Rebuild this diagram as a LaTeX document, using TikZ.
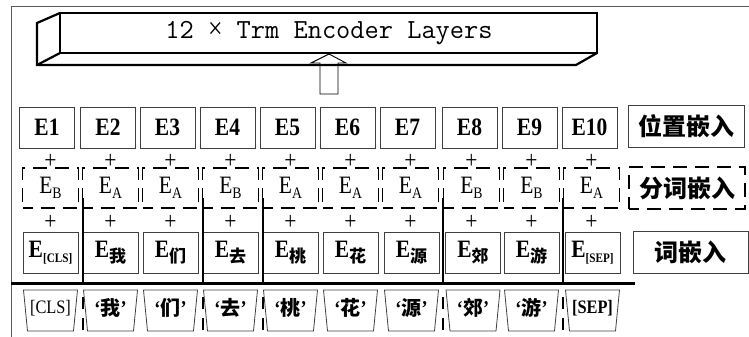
\documentclass[tikz,border=0pt]{standalone}
\usepackage{fontspec}
\newfontfamily\cjk{Noto Sans CJK SC}
\newfontfamily\lab[FakeStretch=0.86]{Liberation Serif}
\newcommand\lsub[2][16]{\raisebox{-0.2em}{\fontsize{#1}{#1}\selectfont #2}}
\newcommand\csub[1]{\raisebox{-0.2em}{\fontsize{17}{17}\selectfont\cjk\bfseries #1}}
\begin{document}
\begin{tikzpicture}[x=1pt,y=-1pt,
  frame/.style={draw=black!65,line width=0.8pt},
  slab/.style={line width=2.2pt,line join=miter},
  posbox/.style={draw=black!75,line width=0.8pt,minimum width=55pt,minimum height=41pt,inner sep=0pt,
    font=\lab\bfseries\fontsize{25}{25}\selectfont},
  segbox/.style={draw=black,line width=1.8pt,dash pattern=on 14pt off 8pt,dash phase=4pt,
    minimum width=56pt,minimum height=40pt,inner sep=0pt,font=\lab\fontsize{25}{25}\selectfont},
  tokbox/.style={draw=black!75,line width=0.8pt,minimum width=55pt,minimum height=41pt,inner sep=0pt,
    font=\lab\bfseries\fontsize{25}{25}\selectfont},
  namebox/.style={draw=black!75,line width=0.8pt,minimum width=116pt,minimum height=42pt,inner sep=0pt,
    font=\cjk\bfseries\fontsize{24}{24}\selectfont},
  plus/.style={inner sep=0pt,font=\lab\fontsize{25}{25}\selectfont},
  trap/.style={draw=black!75,line width=0.8pt},
  word/.style={inner sep=0pt,font=\lab\bfseries\fontsize{21}{21}\selectfont},
  bound/.style={draw=black,line width=1.3pt}]
\useasboundingbox (0,0) rectangle (749,337);

% outer frame (open to the right and bottom)
\draw[frame] (749,6) -- (11,6) -- (11,337);

% encoder slab seen in perspective
\draw[slab] (60,13) rectangle (597,53);
\draw[slab] (60,13) -- (37,23) -- (37,65) -- (576,65) -- (597,53);
\draw[slab] (60,53) -- (37,65);
\node[inner sep=0pt,font=\ttfamily\fontsize{27.6}{27.6}\selectfont] (enc) at (329,33)
  {12 \makebox[0.525em]{\lab\fontsize{30}{30}\selectfont ×} Trm Encoder Layers};

% hollow arrow feeding the encoder
\draw[line width=0.9pt] (320,94) -- (320,63) -- (311,63) -- (329,54) -- (346,63) -- (338,63) -- (338,94) -- cycle;

% position embeddings
\foreach \x/\t [count=\i] in {47/E1,108/E2,167.5/E3,227.5/E4,287.5/E5,347.5/E6,407.5/E7,469.5/E8,529.5/E9,589.5/E10}
  \node[posbox] (p\i) at (\x,127.5) {\t};
\node[namebox] (pname) at (686,126) {位置嵌入};

% segment embeddings
\foreach \x/\s [count=\i] in {50.5/B,110.5/A,170.5/A,230.5/B,290.5/A,350.5/A,410.5/A,471.5/B,531.5/B,591.5/A}{
  \node[segbox] (s\i) at (\x,188) {E\lsub{\s}};
  \node[plus] (pt\i) at (\x,161) {+};
  \node[plus] (pb\i) at (\x,222) {+};
}
\node[namebox,draw=black,line width=1.8pt,dash pattern=on 14pt off 8pt,dash phase=4pt] (sname) at (687,188) {分词嵌入};

% token embeddings
\node[tokbox] (t1) at (50.5,252.5) {E\lsub[13]{[CLS]}};
\foreach \x/\c [count=\i from 2] in {110.5/我,170.5/们,230.5/去,290.5/桃,350.5/花,411.5/源,473/郊,531.5/游}
  \node[tokbox] (t\i) at (\x,252.5) {E\csub{\c}};
\node[tokbox] (t10) at (592.5,252.5) {E\lsub[13]{[SEP]}};
\node[namebox,minimum width=115pt] (tname) at (690.5,252.5) {词嵌入};

% heavy rule between embeddings and inputs
\draw[line width=3pt] (11,283) -- (635,283);

% input tokens
\foreach \x [count=\i] in {50.5,110.5,170.5,230.5,290.5,350.5,411.5,473,531.5,592.5}
  \draw[trap] (\x-27,290) -- (\x+27,290) -- (\x+23,331) -- (\x-23,331) -- cycle;
\node[word,font=\lab\fontsize{19}{19}\selectfont] (w1) at (50.5,308) {[CLS]};
\foreach \x/\c [count=\i from 2] in {110.5/我,170.5/们,230.5/去,290.5/桃,350.5/花,411.5/源,473/郊,531.5/游}
  \node[word] (w\i) at (\x,308) {‘{\cjk\bfseries\fontsize{20}{20}\selectfont\c}’};
\node[word,font=\lab\bfseries\fontsize{19}{19}\selectfont] (w10) at (592.5,308) {[SEP]};

% word boundaries
\foreach \x in {83,203,263,443,563}{
  \draw[bound] (\x,198) -- (\x,283);
  \draw[bound,dash pattern=on 12pt off 9pt] (\x,297) -- (\x,337);
}
\end{tikzpicture}
\end{document}
